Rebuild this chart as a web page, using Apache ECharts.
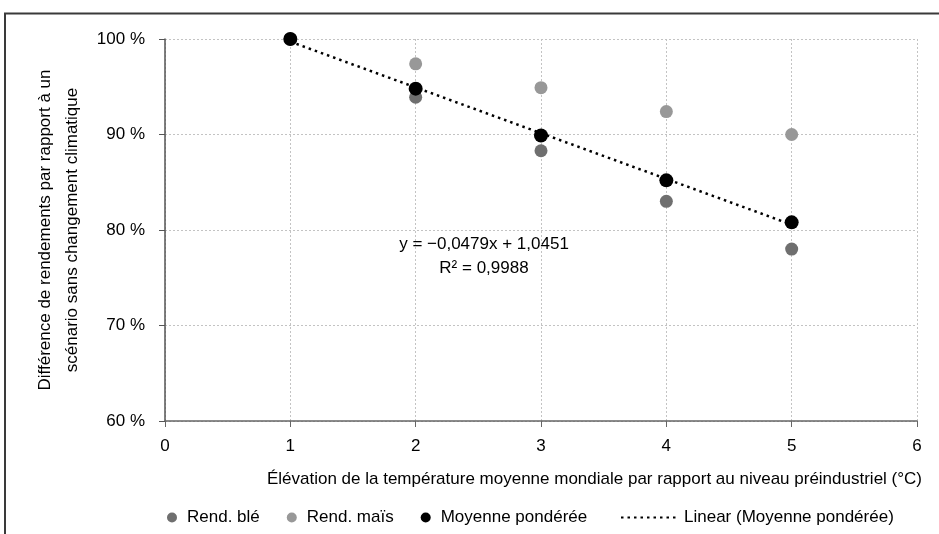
<!DOCTYPE html>
<html>
<head>
<meta charset="utf-8">
<script src="https://cdn.jsdelivr.net/npm/echarts@6/dist/echarts.min.js"></script>
<style>html,body{margin:0;padding:0;background:#fff;}#c{width:939px;height:534px;}</style>
</head>
<body>
<div id="c"></div>
<script>
// Data
var temperatures = [1, 2, 3, 4, 5];
var rendBle = [100, 93.9, 88.3, 83.0, 78.0];
var rendMais = [100, 97.4, 94.9, 92.4, 90.0];
var moyennePonderee = [100, 94.8, 89.9, 85.2, 80.8];
var trendSlope = -0.0479;
var trendIntercept = 1.0451;
var trendRange = [1, 5];
var xTicks = [0, 1, 2, 3, 4, 5, 6];
var yTicks = [60, 70, 80, 90, 100];
var equationText = 'y = \u22120,0479x + 1,0451';
var r2Text = 'R\u00b2 = 0,9988';

var FONT = "'Liberation Sans', Arial, sans-serif";
var FS = 17;

function pairs(xs, ys) { return xs.map(function (x, i) { return [x, ys[i]]; }); }
var trendData = trendRange.map(function (x) { return [x, 100 * (trendSlope * x + trendIntercept)]; });

var chart = echarts.init(document.getElementById('c'), null, { renderer: 'canvas' });
chart.setOption({
  animation: false,
  backgroundColor: '#ffffff',
  textStyle: { fontFamily: FONT, fontSize: FS, color: '#000' },
  grid: { left: 165, right: 22, top: 39, bottom: 113, containLabel: false },
  xAxis: {
    type: 'value', min: xTicks[0], max: xTicks[xTicks.length - 1], interval: 1,
    name: 'Élévation de la température moyenne mondiale par rapport au niveau préindustriel (°C)',
    nameLocation: 'end', nameGap: 0,
    nameTextStyle: { fontFamily: FONT, fontSize: FS, color: '#000', align: 'right', verticalAlign: 'top', padding: [50, -5, 0, 0] },
    axisLine: { show: true, onZero: false, lineStyle: { color: '#666', width: 1.5 } },
    axisTick: { show: true, length: 6, lineStyle: { color: '#666' } },
    axisLabel: { fontFamily: FONT, fontSize: FS, color: '#000', margin: 17 },
    splitLine: { show: true, lineStyle: { color: '#c3c3c3', type: [2, 2], width: 1 } }
  },
  yAxis: {
    type: 'value', min: yTicks[0], max: yTicks[yTicks.length - 1], interval: 10,
    name: 'Différence de rendements par rapport à un\nscénario sans changement climatique',
    nameLocation: 'middle', nameGap: 77, nameRotate: 90,
    nameTextStyle: { fontFamily: FONT, fontSize: FS, color: '#000', lineHeight: 27 },
    axisLine: { show: true, lineStyle: { color: '#555', width: 1.5 } },
    axisTick: { show: true, length: 6, lineStyle: { color: '#555' } },
    axisLabel: { fontFamily: FONT, fontSize: FS, color: '#000', margin: 20, formatter: function (v) { return v + ' %'; } },
    splitLine: { show: true, lineStyle: { color: '#c3c3c3', type: [2, 2], width: 1 } }
  },
  legend: [
    {
      data: ['Rend. blé', 'Rend. maïs', 'Moyenne pondérée'],
      left: 162, top: 504, orient: 'horizontal',
      itemWidth: 20, itemHeight: 10, itemGap: 27, icon: 'circle',
      textStyle: { fontFamily: FONT, fontSize: FS, color: '#000' }
    },
    {
      data: ['Linear (Moyenne pondérée)'],
      left: 615, top: 504,
      itemWidth: 58, itemHeight: 10,
      itemStyle: { opacity: 0 },
      textStyle: { fontFamily: FONT, fontSize: FS, color: '#000' }
    }
  ],
  series: [
    {
      name: 'Rend. blé', type: 'scatter', data: pairs(temperatures, rendBle),
      symbol: 'circle', symbolSize: 13, itemStyle: { color: '#6f6f6f', opacity: 1 }, z: 2
    },
    {
      name: 'Rend. maïs', type: 'scatter', data: pairs(temperatures, rendMais),
      symbol: 'circle', symbolSize: 13, itemStyle: { color: '#989898', opacity: 1 }, z: 2
    },
    {
      name: 'Linear (Moyenne pondérée)', type: 'line', data: trendData,
      symbol: 'none', showSymbol: false,
      lineStyle: { color: '#000', width: 2.5, type: [2.5, 4] }, itemStyle: { color: '#000' }, z: 3
    },
    {
      name: 'Moyenne pondérée', type: 'scatter', data: pairs(temperatures, moyennePonderee),
      symbol: 'circle', symbolSize: 14, itemStyle: { color: '#000', opacity: 1 }, z: 4
    }
  ],
  graphic: [
    {
      type: 'polyline', silent: true,
      shape: { points: [[5, 600], [5, 13.5], [1000, 13.5]] },
      style: { stroke: '#3a3a3a', lineWidth: 2, fill: null }
    },
    {
      type: 'text', silent: true, x: 484, y: 232,
      style: { text: equationText + '\n' + r2Text, fontFamily: FONT, fontSize: FS, fill: '#000', align: 'center', verticalAlign: 'top', lineHeight: 24 }
    }
  ]
});
</script>
</body>
</html>
